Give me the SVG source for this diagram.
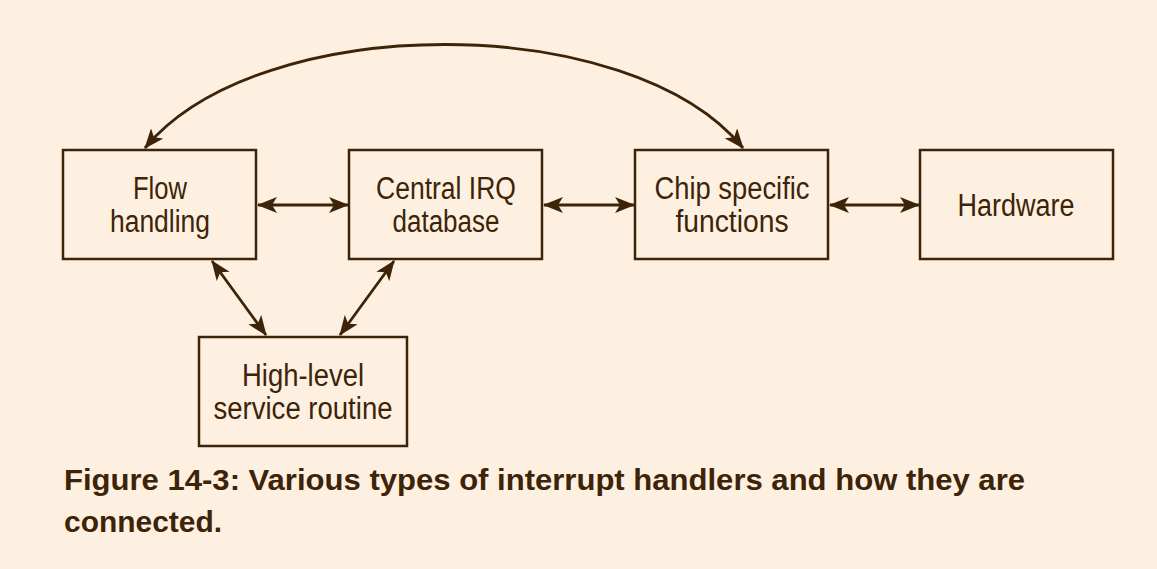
<svg xmlns="http://www.w3.org/2000/svg" width="1157" height="569" viewBox="0 0 1157 569">
<style>
.box{fill:none;stroke:#3d2408;stroke-width:2.5}
.lbl{font-family:"Liberation Sans",sans-serif;font-size:31px;fill:#3d2408;text-anchor:middle}
.con{fill:none;stroke:#3d2408;stroke-width:2.8}
.cap{font-family:"Liberation Sans",sans-serif;font-weight:bold;font-size:30px;fill:#3d2408}
</style>
<defs>
<marker id="ah" viewBox="0 0 20 16" refX="19" refY="8" markerWidth="20" markerHeight="16" markerUnits="userSpaceOnUse" orient="auto-start-reverse">
<path d="M0,0 L20,8 L0,16 L5,8 Z" fill="#3d2408"/>
</marker>
</defs>
<rect width="1157" height="569" fill="#fef0e1"/>
<g id="flow"><rect class="box" x="63" y="150" width="193" height="109"/><text class="lbl" x="160" y="199" textLength="54" lengthAdjust="spacingAndGlyphs">Flow</text><text class="lbl" x="160" y="232" textLength="100" lengthAdjust="spacingAndGlyphs">handling</text></g>
<g id="central"><rect class="box" x="349" y="150" width="193" height="109"/><text class="lbl" x="446" y="199" textLength="140" lengthAdjust="spacingAndGlyphs">Central IRQ</text><text class="lbl" x="446" y="232" textLength="107" lengthAdjust="spacingAndGlyphs">database</text></g>
<g id="chip"><rect class="box" x="635" y="150" width="193" height="109"/><text class="lbl" x="732" y="199" textLength="155" lengthAdjust="spacingAndGlyphs">Chip specific</text><text class="lbl" x="732" y="232" textLength="113" lengthAdjust="spacingAndGlyphs">functions</text></g>
<g id="hardware"><rect class="box" x="920" y="150" width="193" height="109"/><text class="lbl" x="1016" y="216" textLength="117" lengthAdjust="spacingAndGlyphs">Hardware</text></g>
<g id="highlevel"><rect class="box" x="199" y="337" width="208" height="109"/><text class="lbl" x="303" y="386" textLength="122" lengthAdjust="spacingAndGlyphs">High-level</text><text class="lbl" x="303" y="419" textLength="179" lengthAdjust="spacingAndGlyphs">service routine</text></g>
<g id="connectors">
<line class="con" x1="258" y1="205" x2="348" y2="205" marker-start="url(#ah)" marker-end="url(#ah)"/>
<line class="con" x1="544" y1="205" x2="634" y2="205" marker-start="url(#ah)" marker-end="url(#ah)"/>
<line class="con" x1="830" y1="205" x2="919" y2="205" marker-start="url(#ah)" marker-end="url(#ah)"/>
<line class="con" x1="212" y1="261" x2="266" y2="335" marker-start="url(#ah)" marker-end="url(#ah)"/>
<line class="con" x1="394" y1="261" x2="340" y2="335" marker-start="url(#ah)" marker-end="url(#ah)"/>
<path class="con" d="M145,148 C260,10 630,10 743,148" marker-start="url(#ah)" marker-end="url(#ah)"/>
</g>
<text class="cap" x="64" y="490" textLength="961" lengthAdjust="spacingAndGlyphs">Figure 14-3: Various types of interrupt handlers and how they are</text>
<text class="cap" x="64" y="532" textLength="158" lengthAdjust="spacingAndGlyphs">connected.</text>
</svg>
